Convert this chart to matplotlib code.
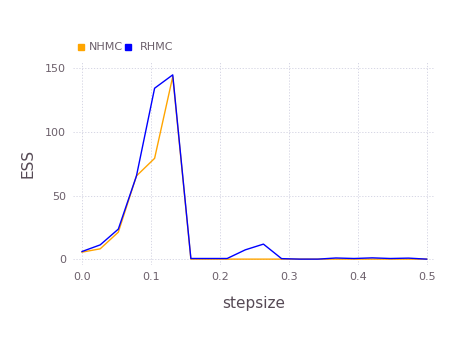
import numpy as np
import matplotlib.pyplot as plt
from matplotlib.lines import Line2D

# step sizes: 20 evenly spaced values from 0 to 0.5
stepsize = [i * 0.5 / 19 for i in range(20)]

ess_nhmc = [5.5, 8.1, 21.2, 65.4, 79.2, 143.4, 0, 0, 0, 0,
            0, 0, 0, 0, 0, 0, 0, 0, 0, 0]
ess_rhmc = [6.0, 11.2, 23.6, 65.4, 134.3, 144.8, 0.5, 0.5, 0.5, 7.3,
            11.8, 0.4, 0.0, 0.0, 0.9, 0.5, 1.0, 0.5, 0.8, 0.0]

series_names = ['NHMC', 'RHMC']
series_colors = ['#FFA500', '#0000FF']
text_color = '#6c606b'

fig = plt.figure(figsize=(4.54, 3.4), dpi=100)
ax = fig.add_axes([0.161, 0.221, 0.797, 0.597])

ax.plot(stepsize, ess_nhmc, color=series_colors[0], lw=1.0)
ax.plot(stepsize, ess_rhmc, color=series_colors[1], lw=1.0)

ax.set_xlim(-0.013, 0.512)
ax.set_ylim(-4.5, 155)
ax.set_xticks([0.0, 0.1, 0.2, 0.3, 0.4, 0.5])
ax.set_xticklabels(['0.0', '0.1', '0.2', '0.3', '0.4', '0.5'])
ax.set_yticks([0, 50, 100, 150])

ax.grid(True, color='#D0D0E0', linestyle=(0, (1.5, 2)), lw=0.6)
ax.set_axisbelow(True)
for s in ax.spines.values():
    s.set_visible(False)
ax.tick_params(length=0, labelsize=8, colors=text_color, pad=5)

ax.set_xlabel('stepsize', fontsize=11, color='#564a55', labelpad=10)
ax.set_ylabel('ESS', fontsize=11, color='#564a55', labelpad=7)

# legend drawn by hand: square keys and labels in a row above the panel
key_x = [0.179, 0.282]
label_x = [0.196, 0.308]
for name, color, kx, lx in zip(series_names, series_colors, key_x, label_x):
    fig.add_artist(Line2D([kx], [0.862], marker='s', linestyle='none', color=color,
                          markersize=5, transform=fig.transFigure))
    fig.text(lx, 0.862, name, fontsize=8, color=text_color, va='center', ha='left')

fig.savefig('out.png', dpi=100)
